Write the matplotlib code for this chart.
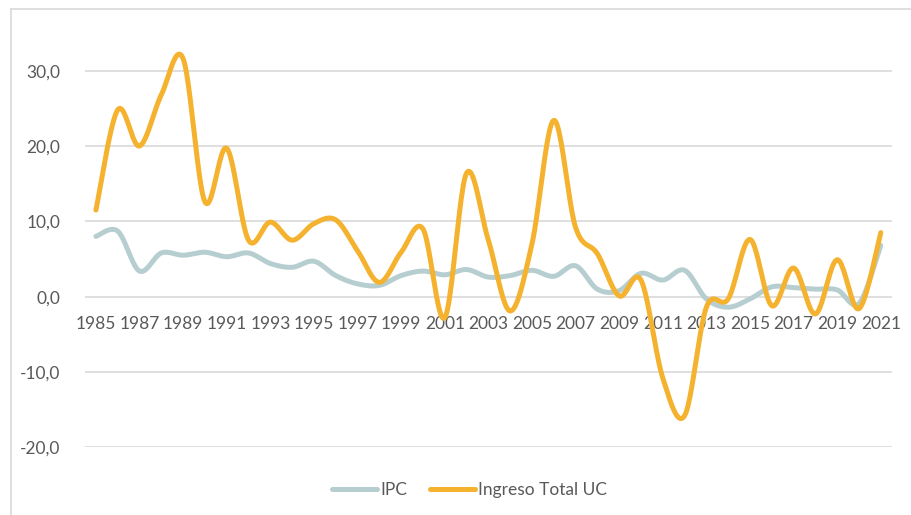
import numpy as np
import matplotlib
matplotlib.use("Agg")
import matplotlib.pyplot as plt
from matplotlib.lines import Line2D

plt.rcParams['font.family'] = ['Lato', 'DejaVu Sans']

years = list(range(1985, 2022))
ipc = [8.0, 8.7, 3.4, 5.8, 5.5, 5.9, 5.3, 5.8, 4.4, 3.9, 4.7, 2.8, 1.7, 1.5,
       2.8, 3.4, 2.9, 3.6, 2.6, 2.8, 3.5, 2.7, 4.1, 1.0, 0.8, 3.1, 2.2, 3.5,
       -0.3, -1.4, -0.3, 1.3, 1.2, 1.0, 0.9, -0.9, 6.8]
ingreso = [11.5, 24.8, 20.0, 26.8, 31.6, 12.6, 19.7, 7.5, 9.9, 7.5, 9.7, 10.2,
           6.1, 1.9, 5.9, 9.0, -2.8, 16.4, 7.5, -1.9, 7.0, 23.4, 9.2, 5.7,
           0.1, 2.2, -10.8, -15.8, -1.4, -0.3, 7.6, -1.2, 3.8, -2.3, 4.9, -1.6, 8.5]
series_names = ["IPC", "Ingreso Total UC"]
y_ticks = [-20, -10, 0, 10, 20, 30]
x_labels = years[::2]

IPC_COLOR = "#B7CED1"
ING_COLOR = "#F5B22E"
TEXT_COLOR = "#595959"
GRID_COLOR = "#D9D9D9"


def smooth(x, y, n=24):
    """Cubic Bezier smoothing through every point (spreadsheet-style smoothed line)."""
    x = np.asarray(x, float)
    y = np.asarray(y, float)
    px = np.concatenate([[x[0]], x, [x[-1]]])
    py = np.concatenate([[y[0]], y, [y[-1]]])
    xs, ys = [], []
    t = np.linspace(0, 1, n, endpoint=False)
    for i in range(1, len(px) - 2):
        p0 = np.array([px[i], py[i]])
        p3 = np.array([px[i + 1], py[i + 1]])
        c1 = p0 + (p3 - np.array([px[i - 1], py[i - 1]])) / 6.0
        c2 = p3 - (np.array([px[i + 2], py[i + 2]]) - p0) / 6.0
        b = ((1 - t) ** 3)[:, None] * p0 + (3 * (1 - t) ** 2 * t)[:, None] * c1 \
            + (3 * (1 - t) * t ** 2)[:, None] * c2 + (t ** 3)[:, None] * p3
        xs.append(b[:, 0])
        ys.append(b[:, 1])
    xs.append([x[-1]])
    ys.append([y[-1]])
    return np.concatenate(xs), np.concatenate(ys)


W, H = 911, 515
fig = plt.figure(figsize=(W / 100, H / 100), dpi=100)

# plot area: categories span x 85..892 px, y -20 at 447 px, 30 at 71 px
y_lo, y_hi = -20, 35
px_per_unit = (447.3 - 70.7) / 50.0
top_px = 70.7 - (y_hi - 30) * px_per_unit
ax = fig.add_axes([85 / W, 1 - 447.3 / H, (891.7 - 85) / W, (447.3 - top_px) / H])
ax.set_xlim(years[0] - 0.5, years[-1] + 0.5)
ax.set_ylim(y_lo, y_hi)

for s in ax.spines.values():
    s.set_visible(False)

for v in y_ticks:
    ax.axhline(v, color=GRID_COLOR, lw=1.2, zorder=1)

ax.set_yticks(y_ticks)
ax.set_yticklabels([f"{v:.1f}".replace(".", ",") for v in y_ticks])
ax.tick_params(axis='y', length=0, pad=18, labelsize=12.5, labelcolor=TEXT_COLOR)
ax.set_xticks([])

for yr in x_labels:
    ax.annotate(str(yr), (yr, 0), xytext=(0, -19.5), textcoords='offset points',
                ha='center', va='center', fontsize=12.5, color=TEXT_COLOR)

sx, sy = smooth(years, ipc)
ax.plot(sx, sy, color=IPC_COLOR, lw=3.6, solid_capstyle='round', zorder=3,
        label=series_names[0])
sx, sy = smooth(years, ingreso)
ax.plot(sx, sy, color=ING_COLOR, lw=3.6, solid_capstyle='round', zorder=4,
        label=series_names[1])

leg = fig.legend(loc='center', bbox_to_anchor=(469.5 / W, 1 - 490 / H), ncol=2,
                 frameon=False, fontsize=12.5, handlelength=2.6, handletextpad=0.2,
                 columnspacing=1.3, labelcolor=TEXT_COLOR)

# chart frame (top and left edges)
fig.add_artist(Line2D([10.5 / W, 1], [1 - 8.5 / H, 1 - 8.5 / H], color=GRID_COLOR,
                      lw=1.2, transform=fig.transFigure))
fig.add_artist(Line2D([10.5 / W, 10.5 / W], [1 - 8.5 / H, 0], color=GRID_COLOR,
                      lw=1.2, transform=fig.transFigure))

fig.savefig("out.png", dpi=100)
